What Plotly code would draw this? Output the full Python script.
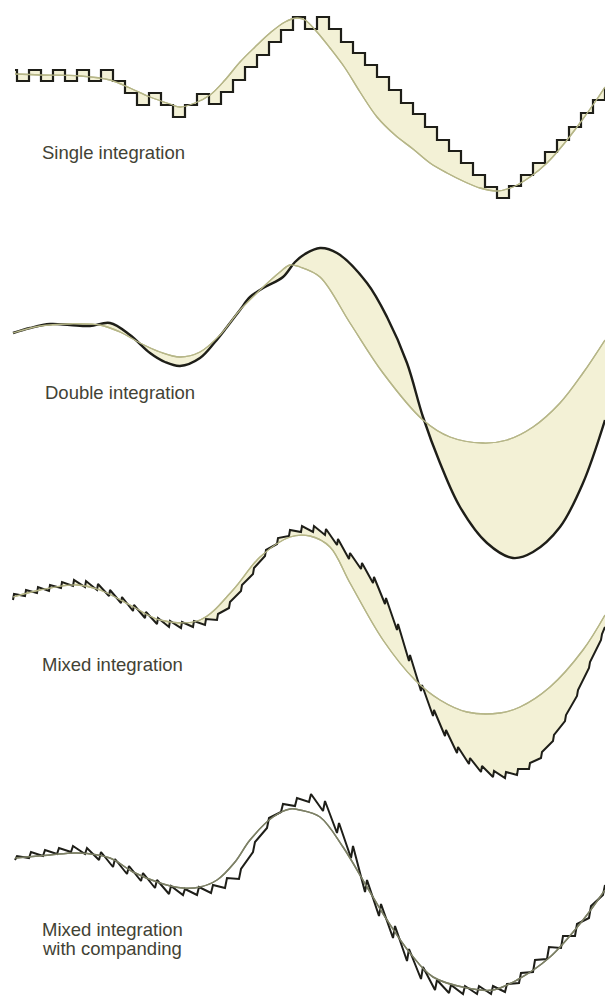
import plotly.graph_objects as go

# ---------------- Panel 1: Single integration ----------------
p1_ref_x = [15, 40, 80, 110, 130, 150, 170, 180, 195, 210, 225, 240, 255, 270, 285, 297, 305, 317, 330, 345, 360, 377, 395, 413, 430, 447, 465, 480, 497, 513, 530, 547, 563, 580, 595, 605]
p1_ref_y = [74, 75, 76, 80, 88, 97, 104, 107, 103, 95, 80, 62, 47, 33, 22, 18, 20, 32, 48, 68, 92, 117, 135, 149, 163, 173, 182, 188, 191, 187, 177, 163, 145, 123, 102, 87]

p1_step_x = [15, 17, 29, 41, 53, 65, 77, 89, 101, 113, 125, 137, 149, 161, 173, 185, 197, 209, 221, 233, 245, 257, 269, 281, 293, 305, 317, 329, 341, 353, 365, 377, 389, 401, 413, 425, 437, 449, 461, 473, 485, 497, 509, 521, 533, 545, 557, 569, 581, 593, 605]
p1_step_y = [70, 81, 70, 81, 70, 81, 70, 81, 70, 81, 93, 105, 93, 105, 117, 105, 94, 104, 92, 80, 67, 55, 42, 30, 17, 29, 17, 29, 42, 53, 65, 77, 90, 103, 114, 127, 140, 151, 163, 175, 187, 198, 186, 175, 163, 152, 140, 127, 113, 100, 88]

# ---------------- Panel 2: Double integration ----------------
p2_ref_x = [13, 40, 70, 100, 120, 140, 160, 180, 200, 220, 240, 260, 280, 290, 300, 320, 350, 383, 423, 450, 483, 507, 533, 560, 583, 605]
p2_ref_y = [333, 326, 324, 325, 332, 343, 352, 357, 352, 335, 310, 290, 272, 265, 267, 277, 323, 373, 420, 437, 443, 440, 427, 403, 373, 340]

p2_out_x = [13, 30, 50, 70, 90, 110, 130, 150, 165, 180, 200, 215, 227, 240, 250, 265, 283, 295, 305, 320, 337, 367, 387, 407, 423, 440, 460, 487, 513, 533, 560, 583, 605]
p2_out_y = [333, 328, 324, 325, 326, 323, 335, 353, 362, 366, 358, 342, 327, 310, 297, 287, 277, 262, 254, 248, 253, 283, 317, 363, 417, 463, 507, 543, 558, 552, 527, 483, 420]

# ---------------- Panel 3: Mixed integration ----------------
p3_ref_x = [13, 40, 77, 100, 130, 160, 200, 233, 260, 290, 310, 330, 350, 383, 415, 440, 467, 500, 520, 550, 583, 605]
p3_ref_y = [597, 590, 585, 590, 605, 620, 620, 590, 557, 537, 536, 547, 583, 640, 680, 700, 712, 713, 707, 687, 650, 615]

p3_out_x = [13, 14, 25, 26, 37, 38, 49, 50, 61, 62, 73, 74, 85, 86, 97, 98, 109, 110, 121, 122,
            133, 134, 145, 146, 157, 158, 169, 170, 181, 182, 193, 194, 205, 206, 217, 218, 229, 230, 241, 242,
            253, 254, 265, 266, 277, 278, 289, 290, 301, 302, 313, 314, 325, 326, 337, 338, 349, 350, 361, 362,
            373, 374, 385, 386, 397, 398, 409, 410, 421, 422, 433, 434, 445, 446, 457, 458, 469, 470, 481, 482,
            493, 494, 505, 506, 517, 518, 529, 530, 541, 542, 553, 554, 565, 566, 577, 578, 589, 590, 601, 602, 605]
p3_out_y = [600, 594, 596, 590, 593, 587, 591, 585, 588, 582, 586, 580, 587, 581, 590, 584, 596, 590, 603, 597,
            611, 605, 618, 612, 624, 618, 627, 621, 628, 622, 627, 621, 625, 619, 620, 614, 608, 602, 591, 585,
            574, 568, 556, 550, 544, 538, 536, 530, 532, 526, 532, 526, 535, 529, 545, 539, 559, 553, 569, 563,
            583, 577, 604, 598, 630, 624, 661, 655, 691, 685, 716, 710, 736, 730, 753, 747, 764, 758, 772, 766,
            777, 771, 778, 772, 775, 769, 769, 763, 758, 752, 741, 735, 721, 715, 696, 690, 668, 662, 640, 634, 627]

# ---------------- Panel 4: Mixed integration with companding ----------------
p4_ref_x = [15, 50, 77, 110, 133, 160, 183, 200, 217, 235, 250, 273, 290, 300, 320, 343, 367, 387, 410, 433, 467, 493, 517, 550, 583, 605]
p4_ref_y = [858, 855, 853, 858, 872, 883, 888, 887, 880, 862, 840, 817, 809, 810, 817, 847, 887, 920, 953, 977, 988, 990, 980, 957, 920, 890]

p4_out_x = [15, 17, 29, 31, 43, 45, 57, 59, 71, 73, 85, 87, 99, 101, 113, 115, 127, 129, 141, 143,
            155, 157, 169, 171, 183, 185, 197, 199, 211, 213, 225, 227, 239, 241, 253, 255, 267, 269, 281, 283,
            295, 297, 309, 311, 323, 325, 337, 339, 351, 353, 365, 367, 379, 381, 393, 395, 407, 409, 421, 423,
            435, 437, 449, 451, 463, 465, 477, 479, 491, 493, 505, 507, 519, 521, 533, 535, 547, 549, 561, 563,
            575, 577, 589, 591, 603, 605]
p4_out_y = [860, 856, 858, 852, 856, 850, 854, 848, 852, 846, 854, 848, 860, 852, 867, 859, 874, 866, 881, 873,
            888, 880, 894, 886, 895, 889, 895, 887, 893, 885, 888, 878, 879, 869, 852, 842, 828, 818, 812, 804,
            806, 798, 802, 794, 811, 801, 833, 823, 858, 846, 892, 880, 916, 904, 938, 926, 961, 949, 979, 967,
            990, 980, 993, 985, 994, 986, 994, 986, 994, 986, 992, 984, 983, 973, 972, 960, 959, 947, 948, 936,
            936, 924, 918, 906, 895, 885]

labels = ["Single integration", "Double integration", "Mixed integration", "Mixed integration", "with companding"]
label_x = [40, 43, 40, 40, 40]
label_y = [152, 392, 664, 929, 948]

FILL = "rgb(243,241,214)"
REF = "rgb(182,182,136)"
INK = "rgb(30,30,24)"

fig = go.Figure()

def add_pair(rx, ry, ox, oy, ref_color, ref_w, ink_w, ref_shape, ink_shape, fill=True):
    fig.add_trace(go.Scatter(x=rx, y=ry, mode="lines", line=dict(color=ref_color, width=ref_w, shape=ref_shape),
                             hoverinfo="skip", showlegend=False))
    fig.add_trace(go.Scatter(x=ox, y=oy, mode="lines", line=dict(color=INK, width=ink_w, shape=ink_shape),
                             fill="tonexty" if fill else None, fillcolor=FILL,
                             hoverinfo="skip", showlegend=False))
    fig.add_trace(go.Scatter(x=rx, y=ry, mode="lines", line=dict(color=ref_color, width=ref_w, shape=ref_shape),
                             hoverinfo="skip", showlegend=False))

add_pair(p1_ref_x, p1_ref_y, p1_step_x, p1_step_y, REF, 1.3, 2.2, "spline", "hv")
add_pair(p2_ref_x, p2_ref_y, p2_out_x, p2_out_y, REF, 1.3, 2.4, "spline", "spline")
add_pair(p3_ref_x, p3_ref_y, p3_out_x, p3_out_y, REF, 1.3, 2.0, "spline", "linear")
add_pair(p4_ref_x, p4_ref_y, p4_out_x, p4_out_y, "rgb(125,128,102)", 1.5, 2.0, "spline", "linear", fill=False)

for t, lx, ly in zip(labels, label_x, label_y):
    fig.add_annotation(x=lx, y=ly, xref="x", yref="y", text=t, showarrow=False,
                       xanchor="left", yanchor="middle", align="left",
                       font=dict(family="Liberation Sans, Arial, sans-serif", size=18.5, color="rgb(66,66,52)"))

fig.update_layout(width=605, height=999, margin=dict(l=0, r=0, t=0, b=0),
                  paper_bgcolor="white", plot_bgcolor="white",
                  xaxis=dict(range=[0, 605], visible=False, fixedrange=True),
                  yaxis=dict(range=[999, 0], visible=False, fixedrange=True))

fig.write_html("out.html", config={"displayModeBar": False},
               post_script="document.body.style.margin='0';document.body.style.overflow='hidden';")
